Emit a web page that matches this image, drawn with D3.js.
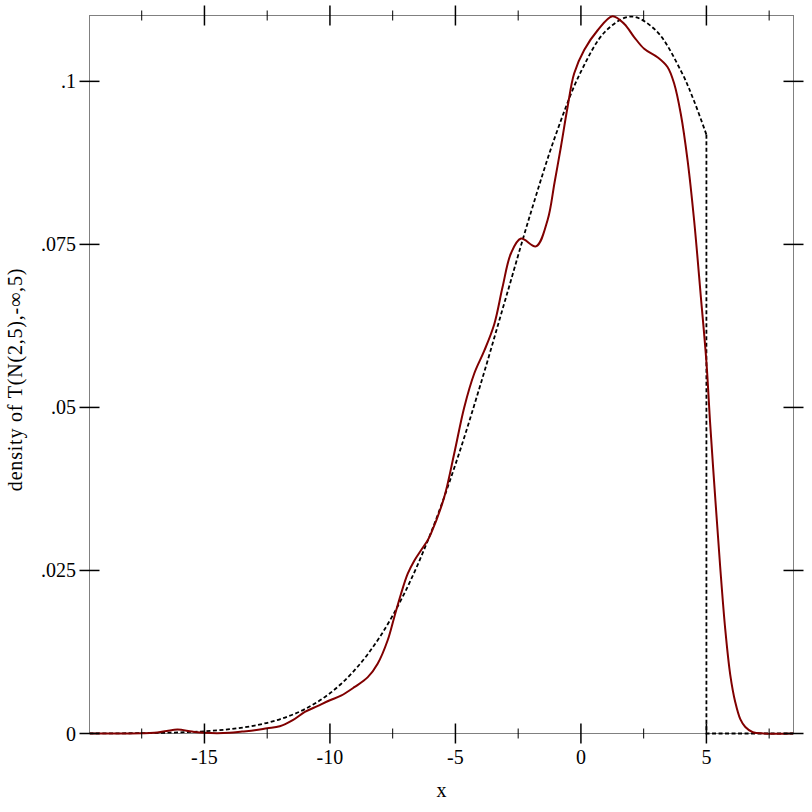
<!DOCTYPE html>
<html>
<head>
<meta charset="utf-8">
<script src="https://cdn.jsdelivr.net/npm/d3@7"></script>
<style>
  html, body { margin: 0; padding: 0; background: #fff; }
  svg { display: block; }
  text { font-family: "Liberation Serif", "DejaVu Serif", serif; fill: #000; }
</style>
</head>
<body>
<svg id="chart" width="812" height="812"></svg>
<script>
// ---- data ----
const xMajorTicks = [-15, -10, -5, 0, 5];
const xMajorLabels = ["-15", "-10", "-5", "0", "5"];
const xMinorTicks = [-17.5, -12.5, -7.5, -2.5, 2.5, 7.5];
const yTicks = [0, 0.025, 0.05, 0.075, 0.1];
const yTickLabels = ["0", ".025", ".05", ".075", ".1"];
const xDomain = [-19.58, 8.47];
const yDomain = [0, 0.1101];

// dashed curve: density of the truncated normal (smooth part up to the cut at 5)
const theoryX = [-19.58, -18, -17, -16, -15, -14, -13, -12, -11, -10, -9, -8, -7, -6, -5, -4, -3, -2, -1, 0, 1, 2, 3, 4, 4.5, 5];
const theoryY = [0.00001, 0.00004, 0.00008, 0.00017, 0.00034, 0.00066, 0.00122, 0.00218, 0.00374, 0.00617, 0.00978, 0.01488, 0.02176, 0.03056, 0.04126, 0.05352, 0.06668, 0.07983, 0.09183, 0.10149, 0.10776, 0.10994, 0.10776, 0.10149, 0.09707, 0.09183];
// dashed curve after the cut: drop to zero and stay there
const theoryTailX = [5, 5, 8.47];
const theoryTailY = [0.09183, 0, 0];

// solid curve: estimated density of the sample
const sampleX = [-19.58, -17.5, -17, -16.5, -16.07, -15.5, -15, -14, -13.5, -13, -12.5, -12, -11.5, -11, -10.5, -10, -9.56, -9.03, -8.5, -8.1, -7.7, -7.44, -7.17, -6.9, -6.64, -6.37, -6.11, -5.98, -5.45, -5.05, -4.65, -4.25, -3.85, -3.45, -3.12, -2.79, -2.39, -1.79, -1.33, -1.05, -0.8, -0.53, -0.27, 0.13, 0.66, 1.26, 1.73, 2.12, 2.52, 3.05, 3.45, 3.72, 3.98, 4.25, 4.51, 4.78, 5.0, 5.15, 5.35, 5.55, 5.75, 5.95, 6.15, 6.35, 6.55, 6.85, 7.3, 8.47];
const sampleY = [0, 0.00002, 0.0001, 0.0004, 0.0006, 0.0003, 0.0001, 0.0001, 0.0003, 0.0005, 0.0008, 0.0011, 0.002, 0.0033, 0.0042, 0.0051, 0.0058, 0.0071, 0.0086, 0.0107, 0.0143, 0.0178, 0.0214, 0.0245, 0.0265, 0.0281, 0.0296, 0.0306, 0.0362, 0.0429, 0.05, 0.0552, 0.0587, 0.0628, 0.0685, 0.0736, 0.0759, 0.0747, 0.0787, 0.0845, 0.0899, 0.0961, 0.1012, 0.1048, 0.1078, 0.11, 0.1088, 0.1068, 0.105, 0.1037, 0.1022, 0.0996, 0.095, 0.0879, 0.0787, 0.0669, 0.0570, 0.0475, 0.0362, 0.0255, 0.0160, 0.0090, 0.0048, 0.0022, 0.0010, 0.0002, 0, 0];

const xLabel = "x";
const yLabel = "density of T(N(2,5),-\u221E,5)";

// ---- layout ----
const pLeft = 89.5, pRight = 793.5, pTop = 15.5, pBottom = 733.5;
const svg = d3.select("#chart");
const x = d3.scaleLinear().domain(xDomain).range([pLeft, pRight]);
const y = d3.scaleLinear().domain(yDomain).range([pBottom, pTop]);

const fontSize = 20;

// frame
svg.append("rect")
  .attr("x", pLeft).attr("y", pTop)
  .attr("width", pRight - pLeft).attr("height", pBottom - pTop)
  .attr("fill", "none").attr("stroke", "#808080").attr("stroke-width", 1);

// clipped curves
svg.append("clipPath").attr("id", "plotclip")
  .append("rect").attr("x", pLeft).attr("y", pTop - 2)
  .attr("width", pRight - pLeft).attr("height", pBottom - pTop + 4);

const gPlot = svg.append("g").attr("clip-path", "url(#plotclip)");

const theoryData = theoryX.map((d, i) => [d, theoryY[i]]);
const theoryTail = theoryTailX.map((d, i) => [d, theoryTailY[i]]);
const sampleData = sampleX.map((d, i) => [d, sampleY[i]]);

const dashStyle = p => p.attr("fill", "none")
  .attr("stroke", "#000")
  .attr("stroke-width", 1.8)
  .attr("stroke-dasharray", "4,2.5");

gPlot.append("path")
  .datum(theoryData)
  .call(dashStyle)
  .attr("d", d3.line().x(d => x(d[0])).y(d => y(d[1])).curve(d3.curveCatmullRom.alpha(0.5)));

gPlot.append("path")
  .datum(theoryTail)
  .call(dashStyle)
  .attr("d", d3.line().x(d => x(d[0])).y(d => y(d[1])));

gPlot.append("path")
  .datum(sampleData)
  .attr("fill", "none")
  .attr("stroke", "#800000")
  .attr("stroke-width", 2)
  .attr("d", d3.line().x(d => x(d[0])).y(d => y(d[1])).curve(d3.curveCatmullRom.alpha(0.5)));

// ticks
const gT = svg.append("g").attr("stroke", "#000");
const major = 10, minor = 5;
xMajorTicks.forEach(v => {
  const px = x(v);
  gT.append("line").attr("x1", px).attr("x2", px).attr("y1", pBottom - major).attr("y2", pBottom + major).attr("stroke-width", 1.5);
  gT.append("line").attr("x1", px).attr("x2", px).attr("y1", pTop - major).attr("y2", pTop + major).attr("stroke-width", 1.5);
});
xMinorTicks.forEach(v => {
  const px = x(v);
  gT.append("line").attr("x1", px).attr("x2", px).attr("y1", pBottom - minor).attr("y2", pBottom + minor).attr("stroke-width", 1);
  gT.append("line").attr("x1", px).attr("x2", px).attr("y1", pTop - minor).attr("y2", pTop + minor).attr("stroke-width", 1);
});
yTicks.forEach(v => {
  const py = y(v);
  gT.append("line").attr("x1", pLeft - major).attr("x2", pLeft + major).attr("y1", py).attr("y2", py).attr("stroke-width", 1.5);
  gT.append("line").attr("x1", pRight - major).attr("x2", pRight + major).attr("y1", py).attr("y2", py).attr("stroke-width", 1.5);
});

// tick labels
xMajorTicks.forEach((v, i) => {
  svg.append("text")
    .attr("x", x(v)).attr("y", 764)
    .attr("text-anchor", "middle")
    .attr("font-size", fontSize)
    .text(xMajorLabels[i]);
});
yTicks.forEach((v, i) => {
  svg.append("text")
    .attr("x", 76).attr("y", y(v) + 7)
    .attr("text-anchor", "end")
    .attr("font-size", fontSize)
    .text(yTickLabels[i]);
});

// axis titles
svg.append("text")
  .attr("x", (pLeft + pRight) / 2).attr("y", 797)
  .attr("text-anchor", "middle")
  .attr("font-size", fontSize)
  .text(xLabel);

svg.append("text")
  .attr("transform", `translate(22, ${(pTop + pBottom) / 2 + 5}) rotate(-90)`)
  .attr("text-anchor", "middle")
  .attr("font-size", fontSize)
  .attr("letter-spacing", 0.8)
  .text(yLabel);
</script>
</body>
</html>
